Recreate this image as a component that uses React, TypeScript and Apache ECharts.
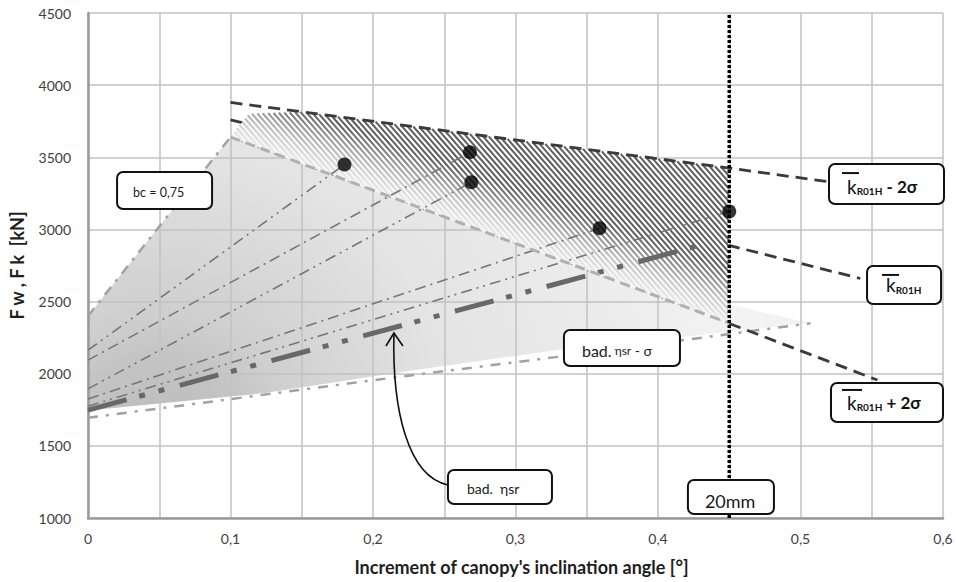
import React, { useEffect, useRef } from 'react';
import * as echarts from 'echarts';

// ---------- data ----------
const xTickLabels = ['0', '0,1', '0,2', '0,3', '0,4', '0,5', '0,6'];
const yMin = 1000;
const yMax = 4500;

const dotX = [0.18, 0.268, 0.269, 0.359, 0.45];
const dotY = [3450, 3535, 3327, 3008, 3125];

const kMinus2Sigma = [[0.1, 3880], [0.45, 3425], [0.52, 3330]];
const kMean = [[0.1, 3760], [0.542, 2660]];
const kPlus2SigmaInner = [[0.1, 3640], [0.45, 2350]];
const kPlus2SigmaOuter = [[0.45, 2348], [0.554, 1956]];

const bcLine = [[0, 2400], [0.1, 3640]];
const model1 = [[0, 2163], [0.18, 3450]];
const model2 = [[0, 2094], [0.268, 3535]];
const model3 = [[0, 1895], [0.269, 3327]];
const model4 = [[0, 1825], [0.359, 3008]];
const model5 = [[0, 1775], [0.45, 3125]];
const badEta = [[0, 1748], [0.431, 2895]];
const badEtaMinusSigma = [[0, 1695], [0.1, 1824], [0.2, 1955], [0.328, 2115], [0.507, 2350]];

const grayRegion = [[0, 1745], [0, 2400], [0.1, 3640], [0.45, 2480], [0.507, 2350], [0.328, 2163], [0.219, 2011], [0.124, 1866]];
const hatchRegion = [[0.1, 3640], [0.113, 3800], [0.15, 3815], [0.45, 3425], [0.45, 2350]];
const limit20mm = [[0.45, 1000], [0.45, 4500]];
const grayCenter = [0.05, 1500];

// ---------- annotation layout (data anchors, pixel sizes) ----------
const boxLayout = [
  { key: 'bc', x: 0.0204, y: 3398, w: 95, h: 37 },
  { key: 'kMinus', x: 0.52, y: 3453, w: 115, h: 40 },
  { key: 'kMean', x: 0.5467, y: 2747, w: 74, h: 38 },
  { key: 'kPlus', x: 0.5214, y: 1936, w: 112, h: 39 },
  { key: 'badSigma', x: 0.334, y: 2303, w: 116, h: 36 },
  { key: 'bad', x: 0.2526, y: 1333, w: 104, h: 34 },
  { key: 'mm', x: 0.421, y: 1263, w: 86, h: 34 },
];
const arrowStart = [0.2526, 1229];
const arrowTip = [0.2147, 2282];

const FONT = 'Lato, "Open Sans", sans-serif';
const ZTOP = 100;

function lineSeries(data: number[][], color: string, width: number, type: any, z: number) {
  return {
    type: 'line',
    data,
    symbol: 'none',
    silent: true,
    z,
    lineStyle: { color, width, type, cap: 'butt' },
  };
}

const kRich = {
  k: { fontSize: 19, fontFamily: FONT, fill: '#111', color: '#111', lineHeight: 20 },
  s: { fontSize: 10, fontWeight: 'bold', fontFamily: FONT, fill: '#111', color: '#111', verticalAlign: 'bottom', lineHeight: 12 },
  t: { fontSize: 17, fontWeight: 'bold', fontFamily: FONT, fill: '#111', color: '#111', lineHeight: 20 },
};

function boxContent(key: string, w: number, h: number): any[] {
  const ol = (x1: number, x2: number, y: number) => ({
    type: 'line', z: ZTOP, shape: { x1, y1: y, x2, y2: y }, style: { stroke: '#111', lineWidth: 2 },
  });
  const txt = (x: number, y: number, style: any) => ({
    type: 'text', z: ZTOP, x, y, style: { align: 'left', verticalAlign: 'middle', fill: '#1a1a1a', fontFamily: FONT, ...style },
  });
  switch (key) {
    case 'bc':
      return [txt(16, h / 2 + 1.5, { text: 'bc = 0,75', fontSize: 12.5 })];
    case 'kMinus':
      return [ol(13, 30, 9), txt(18, h / 2 + 2, { text: '{k|k}{s|R01H}{t| - 2σ}', rich: kRich })];
    case 'kMean':
      return [ol(15, 32, 9), txt(19, h / 2, { text: '{k|k}{s|R01H}', rich: kRich })];
    case 'kPlus':
      return [ol(11, 31, 7), txt(16, h / 2, { text: '{k|k}{s|R01H}{t| + 2σ}', rich: kRich })];
    case 'badSigma':
      return [txt(18, h / 2 + 3, {
        text: '{a|bad.}{b| ηsr}{c| - σ}',
        rich: {
          a: { fontSize: 16, fontFamily: FONT, fill: '#1a1a1a', color: '#1a1a1a' },
          b: { fontSize: 12, fontFamily: FONT, fill: '#1a1a1a', color: '#1a1a1a' },
          c: { fontSize: 14, fontFamily: FONT, fill: '#1a1a1a', color: '#1a1a1a' },
        },
      })];
    case 'bad':
      return [txt(19, h / 2 + 1.5, { text: 'bad.  ηsr', fontSize: 14 })];
    case 'mm':
      return [txt(17, h / 2 + 4, { text: '20mm', fontSize: 18 })];
  }
  return [];
}

const option: any = {
  animation: false,
  grid: { left: 88, right: 13, top: 13, bottom: 64 },
  xAxis: {
    type: 'value', min: 0, max: 0.6, interval: 0.05, z: 1,
    name: "Increment of canopy's inclination angle [°]",
    nameLocation: 'middle', nameGap: 40,
    nameTextStyle: { fontFamily: FONT, fontSize: 18, fontWeight: 'bold', color: '#1e1e1e', padding: [0, 0, 0, 12] },
    axisLine: { show: true, onZero: false, lineStyle: { color: '#9a9a9a', width: 2.5 } },
    axisTick: { show: false },
    axisLabel: {
      margin: 13, fontFamily: FONT, fontSize: 14, color: '#404040',
      formatter: (v: number) => {
        const k = Math.round(v * 20);
        return k % 2 === 0 ? xTickLabels[k / 2] : '';
      },
    },
    splitLine: { show: true, lineStyle: { color: '#c2c2c2', width: 1.5 } },
  },
  yAxis: {
    type: 'value', min: yMin, max: yMax, interval: 500, z: 1,
    name: 'F w , F k  [kN]', nameLocation: 'middle', nameGap: 62, nameRotate: 90,
    nameTextStyle: { fontFamily: FONT, fontSize: 18, fontWeight: 'bold', color: '#1e1e1e' },
    axisLine: { show: true, onZero: false, lineStyle: { color: '#9a9a9a', width: 2.5 } },
    axisTick: { show: false },
    axisLabel: { margin: 17, fontFamily: FONT, fontSize: 14, color: '#404040', formatter: (v: number) => String(v) },
    splitLine: { show: true, lineStyle: { color: '#c2c2c2', width: 1.5 } },
  },
  series: [
    {
      type: 'custom', z: 0, silent: true, data: [[0.3, 3000]],
      renderItem: (_p: any, api: any) => {
        const pts = grayRegion.map((p) => api.coord(p));
        const c = api.coord(grayCenter);
        return {
          type: 'polygon', shape: { points: pts },
          style: {
            fill: new echarts.graphic.RadialGradient(c[0], c[1], 600, [
              { offset: 0, color: '#bababa' },
              { offset: 0.15, color: '#c4c4c4' },
              { offset: 0.22, color: '#cfcfcf' },
              { offset: 0.5, color: '#e4e4e4' },
              { offset: 1, color: '#f3f3f3' },
            ], true),
          },
        };
      },
    },
    lineSeries(kMean, '#3a3a3a', 2.8, [12, 7], 2),
    {
      type: 'custom', z: 3, silent: true, data: [[0.3, 3000]],
      renderItem: (_p: any, api: any) => {
        const pts: number[][] = hatchRegion.map((p) => api.coord(p));
        const children: any[] = [{ type: 'polygon', shape: { points: pts }, style: { fill: '#ffffff' } }];
        const slope = 1.15;
        const fs = pts.map((p) => slope * p[0] - p[1]);
        const fmin = Math.min(...fs);
        const fmax = Math.max(...fs);
        const step = 6.4;
        for (let c = fmin + step / 2; c < fmax; c += step) {
          const hits: number[][] = [];
          for (let i = 0; i < pts.length; i++) {
            const a = pts[i];
            const b = pts[(i + 1) % pts.length];
            const fa = slope * a[0] - a[1] - c;
            const fb = slope * b[0] - b[1] - c;
            if ((fa <= 0 && fb > 0) || (fa > 0 && fb <= 0)) {
              const t = fa / (fa - fb);
              hits.push([a[0] + (b[0] - a[0]) * t, a[1] + (b[1] - a[1]) * t]);
            }
          }
          if (hits.length >= 2) {
            hits.sort((p, q) => p[0] - q[0]);
            const h0 = hits[0];
            const h1 = hits[hits.length - 1];
            children.push({
              type: 'line', shape: { x1: h0[0], y1: h0[1], x2: h1[0], y2: h1[1] },
              style: { stroke: '#5e5e5e', lineWidth: 2 },
            });
          }
        }
        const a = api.coord(kPlus2SigmaInner[0]);
        const b = api.coord(kPlus2SigmaInner[1]);
        const dx = b[0] - a[0];
        const dy = b[1] - a[1];
        const len = Math.hypot(dx, dy);
        const nx = dy / len;
        const ny = -dx / len;
        const mx = (a[0] + b[0]) / 2;
        const my = (a[1] + b[1]) / 2;
        const depth = 50;
        children.push({
          type: 'polygon', shape: { points: pts },
          style: {
            fill: new echarts.graphic.LinearGradient(mx, my, mx + nx * depth, my + ny * depth, [
              { offset: 0, color: 'rgba(244,244,244,0.96)' },
              { offset: 0.4, color: 'rgba(248,248,248,0.65)' },
              { offset: 1, color: 'rgba(255,255,255,0)' },
            ], true),
          },
        });
        return { type: 'group', children };
      },
    },
    lineSeries(bcLine, '#a2a2a2', 2.5, [10, 7, 3, 7], 4),
    lineSeries(model1, '#767676', 1.6, [11, 5, 2, 5, 2, 5], 4),
    lineSeries(model2, '#767676', 1.6, [11, 5, 2, 5], 4),
    lineSeries(model3, '#767676', 1.6, [11, 5, 2, 5, 2, 5], 4),
    lineSeries(model4, '#767676', 1.6, [11, 5, 2, 5], 4),
    lineSeries(model5, '#767676', 1.6, [11, 5, 2, 5, 2, 5], 4),
    lineSeries(badEtaMinusSigma, '#a2a2a2', 2.5, [10, 8, 3, 8], 4),
    lineSeries(badEta, '#686868', 5, [40, 13, 6, 14, 6, 16], 4),
    lineSeries(kPlus2SigmaInner, '#b0b0b0', 3, [10, 6], 4),
    lineSeries(kPlus2SigmaOuter, '#3a3a3a', 2.8, [12, 7], 5),
    lineSeries(kMinus2Sigma, '#3a3a3a', 2.8, [12, 7], 5),
    lineSeries(limit20mm, '#000000', 3.5, [3, 2], 5),
    {
      type: 'scatter', z: 6, silent: true, symbol: 'circle', symbolSize: 14,
      itemStyle: { color: '#000000' },
      data: dotX.map((x, i) => [x, dotY[i]]),
    },
  ],
};

export default function App() {
  const ref = useRef<HTMLDivElement>(null);
  useEffect(() => {
    const chart = echarts.init(ref.current as HTMLDivElement, undefined, { renderer: 'svg' });
    chart.setOption(option);
    const toPx = (p: number[]) => chart.convertToPixel({ xAxisIndex: 0, yAxisIndex: 0 }, p) as number[];
    const graphics: any[] = boxLayout.map((b) => {
      const p = toPx([b.x, b.y]);
      return {
        type: 'group', x: p[0], y: p[1], z: ZTOP, silent: true,
        children: [
          { type: 'rect', z: ZTOP, shape: { x: 0, y: 0, width: b.w, height: b.h, r: 6 }, style: { fill: '#ffffff', stroke: '#111111', lineWidth: 2 } },
          ...boxContent(b.key, b.w, b.h),
        ],
      };
    });
    const s = toPx(arrowStart);
    const t = toPx(arrowTip);
    graphics.push({
      type: 'bezierCurve', z: ZTOP, silent: true,
      shape: { x1: s[0], y1: s[1], cpx1: s[0] - 40, cpy1: s[1] - 8, cpx2: t[0] - 2, cpy2: t[1] + 77, x2: t[0], y2: t[1] },
      style: { stroke: '#111111', lineWidth: 1.6, fill: 'none' },
    });
    graphics.push({
      type: 'polyline', z: ZTOP, silent: true,
      shape: { points: [[t[0] - 8, t[1] + 13], [t[0], t[1]], [t[0] + 9, t[1] + 13]] },
      style: { stroke: '#111111', lineWidth: 1.6, fill: 'none' },
    });
    chart.setOption({ graphic: graphics });
    return () => chart.dispose();
  }, []);
  return <div ref={ref} style={{ position: 'absolute', left: 0, top: 0, width: 956, height: 582 }} />;
}
